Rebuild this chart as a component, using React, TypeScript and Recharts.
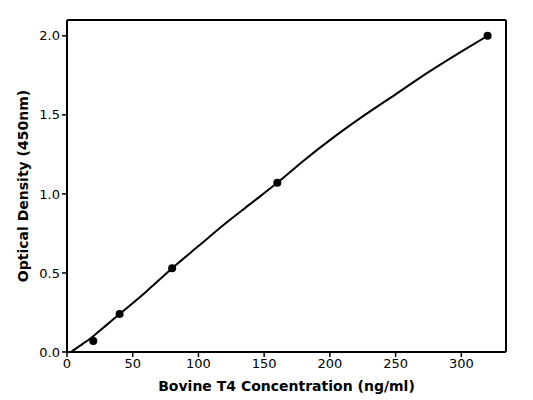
import { ComposedChart, Line, Scatter, XAxis, YAxis, Label, ReferenceLine } from "recharts";

// measured standards
const concentrations = [20, 40, 80, 160, 320];
const densities = [0.07, 0.24, 0.53, 1.07, 2.0];

// fitted curve
const curveX = [3, 10, 20, 30, 40, 60, 80, 100, 120, 140, 160, 180, 200, 225, 250, 275, 300, 320];
const curveY = [0.0, 0.04, 0.1, 0.17, 0.24, 0.38, 0.53, 0.67, 0.81, 0.94, 1.07, 1.21, 1.34, 1.49, 1.63, 1.77, 1.9, 2.0];

const xTicks = [0, 50, 100, 150, 200, 250, 300];
const yTicks = [0, 0.5, 1.0, 1.5, 2.0];

const xMax = 334;
const yMax = 2.1;

const points = concentrations.map((x, i) => ({ x, y: densities[i] }));
const curve = curveX.map((x, i) => ({ x, y: curveY[i] }));

const font = "DejaVu Sans";
const tickStyle = { fill: "#000", fontSize: 13, fontFamily: font };

const App = () => {
	return (
		<div style={{ position: "absolute", left: 0, top: 0, width: 533, height: 400, background: "#fff" }}>
			<ComposedChart width={533} height={400} margin={{ top: 20, right: 27, left: 0, bottom: 0 }}>
				<XAxis
					type="number"
					dataKey="x"
					domain={[0, xMax]}
					ticks={xTicks}
					tick={tickStyle}
					tickSize={5}
					height={48}
					axisLine={{ stroke: "#000", strokeWidth: 2 }}
					tickLine={{ stroke: "#000", strokeWidth: 1.5 }}
					allowDataOverflow
				>
					<Label
						value="Bovine T4 Concentration (ng/ml)"
						position="insideBottom"
						offset={9}
						style={{ fontFamily: font, fontSize: 14, fontWeight: "bold", fill: "#000" }}
					/>
				</XAxis>
				<YAxis
					type="number"
					dataKey="y"
					domain={[0, yMax]}
					ticks={yTicks}
					tickFormatter={(v) => v.toFixed(1)}
					tick={tickStyle}
					tickSize={5}
					width={67}
					axisLine={{ stroke: "#000", strokeWidth: 2 }}
					tickLine={{ stroke: "#000", strokeWidth: 1.5 }}
					allowDataOverflow
				>
					<Label
						value="Optical Density (450nm)"
						angle={-90}
						position="insideLeft"
						offset={23}
						style={{ textAnchor: "middle", fontFamily: font, fontSize: 14, fontWeight: "bold", fill: "#000" }}
					/>
				</YAxis>
				{/* frame: top and right spines */}
				<ReferenceLine y={yMax} stroke="#000" strokeWidth={2} />
				<ReferenceLine x={xMax} stroke="#000" strokeWidth={2} />
				<Line
					data={curve}
					dataKey="y"
					type="monotone"
					stroke="#000"
					strokeWidth={2}
					dot={false}
					activeDot={false}
					isAnimationActive={false}
				/>
				<Scatter
					data={points}
					dataKey="y"
					fill="#000"
					shape={(p: any) => <circle cx={p.cx} cy={p.cy} r={4} fill="#000" />}
					isAnimationActive={false}
				/>
			</ComposedChart>
		</div>
	);
};

export default App;
